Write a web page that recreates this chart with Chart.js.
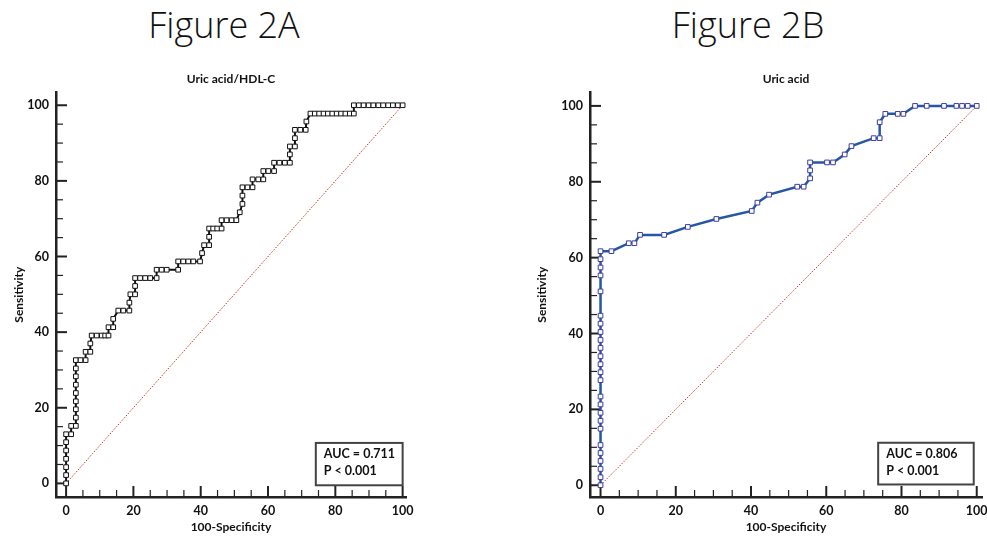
<!DOCTYPE html>
<html>
<head>
<meta charset="utf-8">
<script src="https://cdn.jsdelivr.net/npm/chart.js@4.4.1/dist/chart.umd.min.js"></script>
<style>
  body { margin: 0; background: #fff; width: 987px; height: 538px; position: relative; overflow: hidden; }
  .fig { position: absolute; top: 7px; width: 220px; text-align: center; font-family: "Open Sans", sans-serif; font-weight: 300; font-size: 36px; line-height: 1; color: #111; }
  canvas { position: absolute; top: 0; }
</style>
</head>
<body>
<div class="fig" style="left:114px">Figure 2A</div>
<div class="fig" style="left:638px">Figure 2B</div>
<canvas id="rocA" width="440" height="538" style="left:0"></canvas>
<canvas id="rocB" width="467" height="538" style="left:520px"></canvas>
<script>
// tick labels and tick marks (every 5, labelled every 20)
const axisLabels = [0, 20, 40, 60, 80, 100];
const tickMarks = [0, 5, 10, 15, 20, 25, 30, 35, 40, 45, 50, 55, 60, 65, 70, 75, 80, 85, 90, 95, 100];

// reference diagonal
const diagX = [0, 100];
const diagY = [0, 100];

// Figure 2A - Uric acid/HDL-C
const rocAx = [0, 0, 0, 0, 0, 0, 0, 1.5, 1.5, 2.9, 2.9, 2.9, 2.9, 2.9, 2.9, 2.9, 2.9, 2.9,
  4.3, 5.8, 5.8, 7.2, 7.2, 7.6, 9.1, 10.6, 11.6, 12.6, 12.6, 14.0, 14.0, 15.5, 17.0, 18.8, 18.8, 19.1, 20.5, 20.5, 20.5,
  22.0, 23.5, 25.0, 26.9, 26.9, 28.4, 29.9, 33.3, 33.3, 34.8, 36.3, 37.8, 39.8, 40.4, 41.0, 42.5, 42.5, 42.5,
  43.7, 44.9, 46.2, 46.2, 47.7, 49.2, 50.6, 51.6, 52.4, 52.4, 52.4, 53.9, 55.4, 55.4, 57.1, 58.6, 58.6, 60.1, 61.8,
  61.8, 63.4, 65.0, 66.5, 66.5, 66.5, 68.0, 68.0, 68.0, 69.6, 71.2, 71.4, 72.6, 73.9, 75.2, 76.5, 77.8, 79.1,
  80.4, 81.7, 83.0, 84.3, 85.5, 85.5, 87.0, 88.4, 89.9, 91.3, 92.8, 94.2, 95.7, 97.1, 98.6, 100];
const rocAy = [0, 2.2, 4.3, 6.5, 8.7, 10.9, 13.0, 13.0, 15.2, 15.2, 17.4, 19.6, 21.7, 23.9, 26.1, 28.3, 30.4, 32.6,
  32.6, 32.6, 34.8, 34.8, 37.0, 39.1, 39.1, 39.1, 39.1, 39.1, 41.3, 41.3, 43.5, 45.7, 45.7, 45.7, 47.8, 50.0, 50.0, 52.2, 54.3,
  54.3, 54.3, 54.3, 54.3, 56.5, 56.5, 56.5, 56.5, 58.7, 58.7, 58.7, 58.7, 58.7, 60.9, 63.0, 63.0, 65.2, 67.4,
  67.4, 67.4, 67.4, 69.6, 69.6, 69.6, 69.6, 71.7, 73.9, 76.1, 78.3, 78.3, 78.3, 80.4, 80.4, 80.4, 82.6, 82.6, 82.6,
  84.8, 84.8, 84.8, 84.8, 87.0, 89.1, 89.1, 91.3, 93.5, 93.5, 93.5, 95.7, 97.8, 97.8, 97.8, 97.8, 97.8, 97.8,
  97.8, 97.8, 97.8, 97.8, 97.8, 100, 100, 100, 100, 100, 100, 100, 100, 100, 100, 100];
const aucA = ['AUC = 0.711', 'P < 0.001'];

// Figure 2B - Uric acid
const rocBx = [0, 0, 0, 0, 0, 0, 0, 0, 0, 0, 0, 0, 0, 0, 0, 0, 0, 0, 0, 0, 0, 0, 0, 0, 0,
  2.9, 7.5, 9.0, 10.5, 16.9, 23.2, 30.8, 40.2, 41.7, 44.8, 52.3, 54.0, 55.7, 55.7, 55.7, 60.2, 61.8,
  64.9, 66.7, 72.6, 74.2, 74.2, 75.7, 79.0, 80.5, 83.6, 86.7, 91.3, 94.6, 96.1, 97.6, 100];
const rocBy = [0, 2.1, 4.3, 6.4, 8.5, 10.6, 14.9, 17.0, 19.1, 21.3, 23.4, 27.7, 29.8, 31.9, 34.0, 36.2, 38.3, 40.4,
  42.6, 44.7, 51.1, 55.3, 57.4, 59.6, 61.7,
  61.7, 63.8, 63.8, 66.0, 66.0, 68.1, 70.2, 72.3, 74.5, 76.6, 78.7, 78.7, 80.9, 83.0, 85.1, 85.1, 85.1,
  87.2, 89.4, 91.5, 91.5, 95.7, 97.9, 97.9, 97.9, 100, 100, 100, 100, 100, 100, 100];
const aucB = ['AUC = 0.806', 'P < 0.001'];

const toPoints = (xs, ys) => xs.map((x, i) => ({x: x, y: ys[i]}));

const labelFont = {family: 'Lato, "Open Sans", sans-serif', weight: 'bold', size: 12.5};
const titleFont = {family: 'Lato, "Open Sans", sans-serif', weight: 'bold', size: 12};

// tick marks point into the plot, so they are drawn here
const inwardTicks = {
  id: 'inwardTicks',
  beforeDatasetsDraw(chart) {
    const {ctx, chartArea, scales: {x, y}} = chart;
    ctx.save();
    ctx.strokeStyle = '#222';
    tickMarks.forEach(v => {
      const major = axisLabels.includes(v);
      const len = major ? 11 : 7;
      ctx.lineWidth = major ? 2 : 1.2;
      const py = y.getPixelForValue(v);
      ctx.beginPath();
      ctx.moveTo(chartArea.left, py);
      ctx.lineTo(chartArea.left + len, py);
      ctx.stroke();
      const px = x.getPixelForValue(v);
      ctx.beginPath();
      ctx.moveTo(px, chartArea.bottom);
      ctx.lineTo(px, chartArea.bottom - len);
      ctx.stroke();
    });
    ctx.restore();
  }
};

const aucBox = {
  id: 'aucBox',
  afterDraw(chart, args, opts) {
    const {ctx, scales: {x, y}} = chart;
    const left = x.getPixelForValue(opts.x0);
    const right = x.getPixelForValue(opts.x1);
    const top = y.getPixelForValue(opts.y1);
    const bottom = y.getPixelForValue(opts.y0);
    ctx.save();
    ctx.fillStyle = '#fff';
    ctx.fillRect(left, top, right - left, bottom - top);
    ctx.strokeStyle = '#444';
    ctx.lineWidth = 2;
    ctx.strokeRect(left, top, right - left, bottom - top);
    ctx.fillStyle = '#111';
    ctx.font = 'bold 12.5px Lato, "Open Sans", sans-serif';
    ctx.textBaseline = 'middle';
    opts.lines.forEach((t, i) => ctx.fillText(t, left + 8, top + 11 + i * 17));
    ctx.restore();
  }
};

function makeRoc(id, opt) {
  const ctx = document.getElementById(id).getContext('2d');
  return new Chart(ctx, {
    type: 'line',
    data: {
      datasets: [{
        label: opt.title,
        data: opt.points,
        borderColor: opt.lineColor,
        borderWidth: opt.lineWidth,
        pointStyle: 'rect',
        pointRadius: 3.3,
        pointBorderWidth: 1,
        pointBorderColor: opt.markerColor,
        pointBackgroundColor: '#fff',
        tension: 0,
      }, {
        label: 'reference',
        data: toPoints(diagX, diagY),
        borderColor: '#c0392b',
        borderWidth: 1,
        borderDash: [1.5, 1.5],
        pointRadius: 0,
      }]
    },
    options: {
      responsive: false,
      animation: false,
      layout: {padding: {left: 0, right: opt.padRight, top: 0, bottom: 0}},
      plugins: {
        legend: {display: false},
        tooltip: {enabled: false},
        title: {
          display: true,
          text: opt.title,
          fullSize: false,
          color: '#111',
          font: titleFont,
          padding: {top: 72, bottom: 6},
        },
        aucBox: opt.box,
      },
      scales: {
        x: {
          type: 'linear',
          min: opt.xMin,
          max: opt.xMax,
          afterBuildTicks: s => { s.ticks = axisLabels.map(v => ({value: v})); },
          afterFit: s => { s.height = 41; s.paddingLeft = 0; s.paddingRight = 0; },
          grid: {display: false, drawTicks: false},
          border: {color: '#222', width: 2.5},
          ticks: {color: '#111', font: labelFont, padding: 6, maxRotation: 0},
          title: {display: true, text: '100-Specificity', color: '#111', font: titleFont, padding: {top: 0, bottom: 4}},
        },
        y: {
          type: 'linear',
          min: opt.yMin,
          max: opt.yMax,
          afterBuildTicks: s => { s.ticks = axisLabels.map(v => ({value: v})); },
          afterFit: s => { s.width = opt.yWidth; s.paddingTop = 0; s.paddingBottom = 0; },
          grid: {display: false, drawTicks: false},
          border: {color: '#222', width: 2.5},
          ticks: {color: '#111', font: labelFont, padding: 7},
          title: {display: true, text: 'Sensitivity', color: '#111', font: titleFont, padding: {top: opt.yTitlePad, bottom: 0}},
        },
      },
    },
    plugins: [inwardTicks, aucBox],
  });
}

makeRoc('rocA', {
  title: 'Uric acid/HDL-C',
  points: toPoints(rocAx, rocAy),
  lineColor: '#111',
  lineWidth: 2,
  markerColor: '#111',
  padRight: 34,
  yWidth: 56,
  yTitlePad: 12,
  xMin: -3, xMax: 101,
  yMin: -3.6, yMax: 103.4,
  box: {lines: aucA, x0: 74.2, x1: 100, y0: -0.5, y1: 10.7},
});

makeRoc('rocB', {
  title: 'Uric acid',
  points: toPoints(rocBx, rocBy),
  lineColor: '#2457a6',
  lineWidth: 2.5,
  markerColor: '#3d3d9e',
  padRight: 1,
  yWidth: 70,
  yTitlePad: 15,
  xMin: -2.8, xMax: 101.4,
  yMin: -3.1, yMax: 103.56,
  box: {lines: aucB, x0: 73.8, x1: 99.2, y0: 0.2, y1: 11.2},
});
</script>
</body>
</html>
